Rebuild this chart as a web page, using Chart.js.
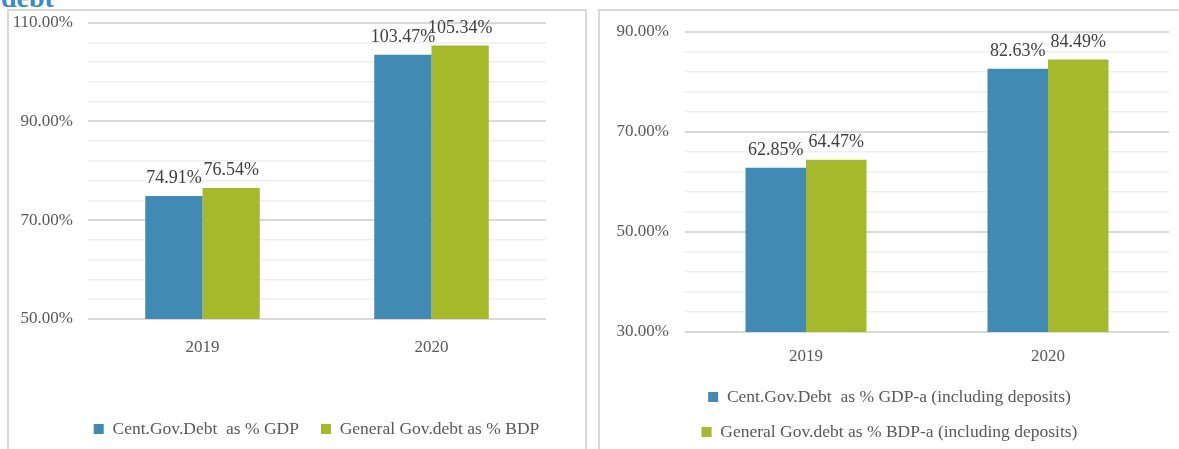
<!DOCTYPE html>
<html>
<head>
<meta charset="utf-8">
<script src="https://cdn.jsdelivr.net/npm/chart.js@4/dist/chart.umd.min.js"></script>
<style>
  html, body { margin: 0; padding: 0; background: #fff; overflow: hidden; }
  body { width: 1179px; height: 449px; position: relative; font-family: "Liberation Serif", serif; }
  .head { position: absolute; left: 1px; top: -16px; font: bold 28px/28px "Liberation Serif", serif; color: #3a8cc4; }
  .frame { position: absolute; border: 2px solid #d9d9d9; box-sizing: content-box; }
  #frameL { left: 7px; top: 9px; width: 576px; height: 460px; }
  #frameR { left: 598px; top: 9px; width: 600px; height: 460px; }
  .box { position: absolute; left: 0; top: 0; height: 450px; }
  #frameL .box { width: 615px; }
  #frameR .box { width: 579px; }
</style>
</head>
<body>
<div class="head">debt</div>
<div class="frame" id="frameL"><div class="box"><canvas id="chartL"></canvas></div></div>
<div class="frame" id="frameR"><div class="box"><canvas id="chartR"></canvas></div></div>

<script>
// values
const years = ["2019", "2020"];

const centGovDebt = [74.91, 103.47];
const generalGovDebt = [76.54, 105.34];
const leftNames = ["Cent.Gov.Debt  as % GDP", "General Gov.debt as % BDP"];
const leftRange = [50, 110];

const centGovDebtDeposits = [62.85, 82.63];
const generalGovDebtDeposits = [64.47, 84.49];
const rightNames = [
  "Cent.Gov.Debt  as % GDP-a (including deposits)",
  "General Gov.debt as % BDP-a (including deposits)",
];
const rightRange = [30, 90];

const minorStep = 4;
const majorStep = 20;

const BLUE = "#418ab3";
const GREEN = "#a6b92a";
const TEXT = "#595959";
const FONT = "Liberation Serif";

Chart.defaults.font.family = FONT;
Chart.defaults.color = TEXT;

// value labels above each bar
const barValueLabels = {
  id: "barValueLabels",
  afterDatasetsDraw(chart) {
    const { ctx } = chart;
    ctx.save();
    ctx.font = '18px "' + FONT + '"';
    ctx.fillStyle = "#404040";
    ctx.textAlign = "center";
    ctx.textBaseline = "alphabetic";
    chart.data.datasets.forEach((ds, i) => {
      chart.getDatasetMeta(i).data.forEach((bar, j) => {
        ctx.fillText(ds.data[j].toFixed(2) + "%", bar.x, bar.y - 13);
      });
    });
    ctx.restore();
  },
};

function makeChart(el, names, a, b, range, lay) {
  const [min, max] = range;
  const isMajor = (v) => (v - min) % majorStep === 0;
  const scales = {
    x: {
      grid: { display: false },
      border: { display: false },
      ticks: { padding: lay.xPad, font: { size: 17 }, color: TEXT },
      afterFit: (s) => { s.height = lay.xHeight; },
    },
    y: {
      min: min,
      max: max,
      border: { display: false },
      grid: {
        tickLength: lay.yGap,
        tickColor: "rgba(0,0,0,0)",
        color: (c) => (c.tick && isMajor(c.tick.value) ? "#d9d9d9" : "#efefef"),
        lineWidth: (c) => (c.tick && isMajor(c.tick.value) ? 2 : 1.5),
      },
      ticks: {
        stepSize: minorStep,
        autoSkip: false,
        padding: 0,
        font: { size: 17 },
        color: TEXT,
        callback: (v) => (isMajor(v) ? v.toFixed(2) + "%" : ""),
      },
      afterFit: (s) => { s.width = lay.yWidth; },
    },
  };
  if (lay.rightGap) {
    // empty right-hand strip so the legend can use the full width
    scales.y2 = {
      position: "right",
      grid: { display: false },
      border: { display: false },
      ticks: { display: false },
      afterFit: (s) => { s.width = lay.rightGap; },
    };
  }
  return new Chart(el, {
    type: "bar",
    data: {
      labels: years,
      datasets: [
        { label: names[0], data: a, backgroundColor: BLUE, borderWidth: 0 },
        { label: names[1], data: b, backgroundColor: GREEN, borderWidth: 0 },
      ],
    },
    options: {
      responsive: true,
      maintainAspectRatio: false,
      animation: false,
      categoryPercentage: 0.5,
      barPercentage: 1.0,
      layout: { padding: lay.padding },
      scales: scales,
      plugins: {
        tooltip: { enabled: false },
        legend: {
          position: "bottom",
          labels: {
            boxWidth: 10,
            boxHeight: 10,
            padding: lay.legendPad,
            color: TEXT,
            font: { size: 17.5 },
          },
        },
      },
    },
    plugins: [barValueLabels],
  });
}

makeChart(
  document.getElementById("chartL"),
  leftNames, centGovDebt, generalGovDebt, leftRange,
  {
    padding: { left: 0, right: 0, top: 11.6, bottom: 13.25 },
    yWidth: 79, yGap: 15, rightGap: 78,
    xHeight: 79.25, xPad: 10, legendPad: 22,
  }
);

makeChart(
  document.getElementById("chartR"),
  rightNames, centGovDebtDeposits, generalGovDebtDeposits, rightRange,
  {
    padding: { left: 10, right: 10, top: 21, bottom: 10.25 },
    yWidth: 75, yGap: 16, rightGap: 0,
    xHeight: 38.75, xPad: 6, legendPad: 17.5,
  }
);
</script>
</body>
</html>
